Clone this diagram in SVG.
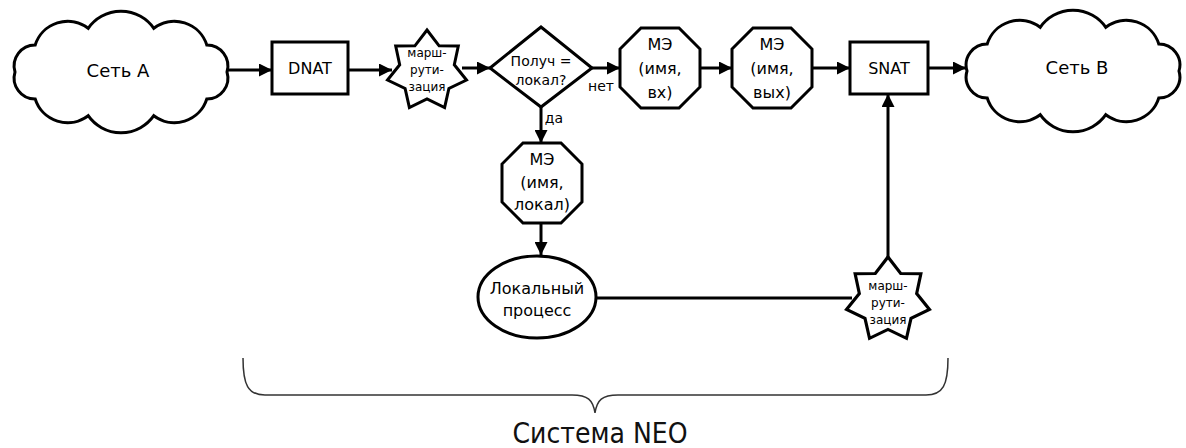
<svg xmlns="http://www.w3.org/2000/svg" width="1186" height="448" viewBox="0 0 1186 448">
<style>
.sh{fill:#fff;stroke:#000;stroke-width:3;stroke-linejoin:miter}
.ln{fill:none;stroke:#000;stroke-width:3}
.ar{marker-end:url(#ah)}
text{font-family:"DejaVu Sans",Verdana,sans-serif;fill:#000;text-anchor:middle;dominant-baseline:central}
.t18{font-size:18px}.t16{font-size:16px}.t15{font-size:15px}.t14{font-size:14px}.t12{font-size:12px}
.big{font-family:"Liberation Sans Narrow","DejaVu Sans Condensed","DejaVu Sans",sans-serif;font-size:28px;fill:#111}
</style>
<defs>
<marker id="ah" markerUnits="userSpaceOnUse" markerWidth="13" markerHeight="13" refX="13" refY="6.5" orient="auto">
<path d="M0,0 L13,6.5 L0,13 Z" fill="#000"/>
</marker>
<path id="cloud" d="M-106,0 A21,21 0 0,1 -85.8,-27 A34,34 0 0,1 -32.8,-43.7 A40,40 0 0,1 32.8,-43.7 A34,34 0 0,1 85.8,-27 A21,21 0 0,1 106,0 A21,21 0 0,1 85.8,27 A34,34 0 0,1 32.8,43.7 A40,40 0 0,1 -32.8,43.7 A34,34 0 0,1 -85.8,27 A21,21 0 0,1 -106,0 Z"/>
<path id="oct" d="M-19,-40 L19,-40 L40,-19 L40,19 L19,40 L-19,40 L-40,19 L-40,-19 Z"/>
<polygon id="star" points="0,-41 12.1,-25.2 31.3,-25 27.3,-6.2 39.5,9 21.9,17.5 17.6,36.5 0,28 -17.6,36.5 -21.9,17.5 -39.5,9 -27.3,-6.2 -31.3,-25 -12.1,-25.2"/>
</defs>

<g id="connectors">
<line class="ln ar" x1="227" y1="70" x2="272" y2="70"/>
<line class="ln ar" x1="348" y1="70" x2="392" y2="70"/>
<line class="ln ar" x1="462" y1="68" x2="490" y2="68"/>
<line class="ln ar" x1="592" y1="68" x2="620" y2="68"/>
<line class="ln ar" x1="700" y1="68" x2="732" y2="68"/>
<line class="ln ar" x1="812" y1="68" x2="850" y2="68"/>
<line class="ln ar" x1="928" y1="68" x2="966" y2="68"/>
<line class="ln ar" x1="541" y1="107" x2="541" y2="143"/>
<line class="ln ar" x1="541" y1="222" x2="541" y2="255"/>
<line class="ln" x1="597" y1="298" x2="852" y2="298"/>
<line class="ln ar" x1="888" y1="262" x2="888" y2="94"/>
<text class="t14" x="601" y="86">нет</text>
<text class="t14" x="554" y="118">да</text>
</g>

<g id="cloudA">
<use href="#cloud" class="sh" transform="translate(121,72)"/>
<text class="t18" x="118" y="70">Сеть A</text>
</g>

<g id="dnat">
<rect class="sh" x="272" y="42" width="76" height="52"/>
<text class="t16" x="310" y="68">DNAT</text>
</g>

<g id="route1">
<use href="#star" class="sh" transform="translate(427,71)"/>
<text class="t12" x="427" y="53">марш-</text>
<text class="t12" x="427" y="70">рути-</text>
<text class="t12" x="427" y="87">зация</text>
</g>

<g id="decision">
<polygon class="sh" points="541,27 592,68 541,107 490,68"/>
<text class="t14" x="541" y="61">Получ =</text>
<text class="t14" x="541" y="80">локал?</text>
</g>

<g id="meIn">
<use href="#oct" class="sh" transform="translate(660,68)"/>
<text class="t16" x="660" y="44">МЭ</text>
<text class="t16" x="660" y="68">(имя,</text>
<text class="t16" x="660" y="92">вх)</text>
</g>

<g id="meOut">
<use href="#oct" class="sh" transform="translate(772,68)"/>
<text class="t16" x="772" y="44">МЭ</text>
<text class="t16" x="772" y="68">(имя,</text>
<text class="t16" x="772" y="92">вых)</text>
</g>

<g id="snat">
<rect class="sh" x="850" y="42" width="78" height="52"/>
<text class="t16" x="889" y="68">SNAT</text>
</g>

<g id="cloudB">
<use href="#cloud" class="sh" transform="translate(1073,71)"/>
<text class="t18" x="1077" y="67">Сеть B</text>
</g>

<g id="meLocal">
<use href="#oct" class="sh" transform="translate(542,183)"/>
<text class="t16" x="542" y="159">МЭ</text>
<text class="t16" x="542" y="182">(имя,</text>
<text class="t16" x="542" y="204">локал)</text>
</g>

<g id="localProc">
<ellipse class="sh" cx="537" cy="297" rx="59" ry="41"/>
<text class="t16" x="537" y="288">Локальный</text>
<text class="t16" x="537" y="310">процесс</text>
</g>

<g id="route2">
<use href="#star" class="sh" transform="translate(888,300) scale(1.05)"/>
<text class="t12" x="888" y="286">марш-</text>
<text class="t12" x="888" y="303">рути-</text>
<text class="t12" x="888" y="320">зация</text>
</g>

<g id="system">
<path d="M243,358 C243,385 248,395 265,395 L572,395 C588,395 593,400 595,413 C597,400 602,395 618,395 L926,395 C943,395 948,385 948,358" fill="none" stroke="#333" stroke-width="1.5"/>
<text class="big" x="600" y="433">Система NEO</text>
</g>
</svg>
